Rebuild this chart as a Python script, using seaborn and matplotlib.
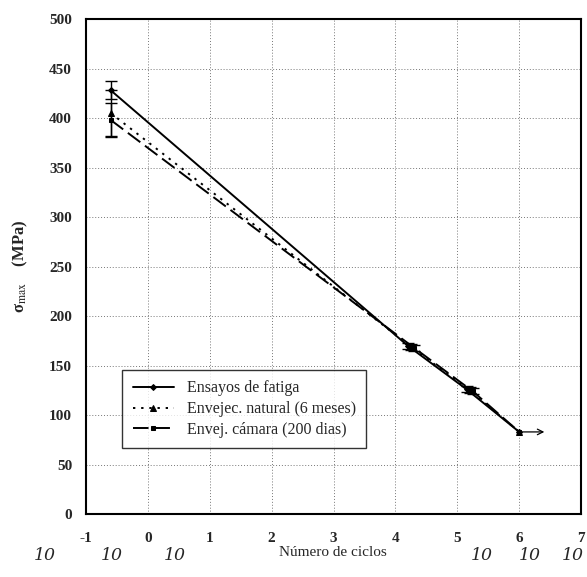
import matplotlib
matplotlib.use("Agg")
import matplotlib.pyplot as plt
import seaborn as sns
import pandas as pd
import numpy as np

# Data (log10 of number of cycles vs sigma_max in MPa)
series_names = ["Ensayos de fatiga", "Envejec. natural (6 meses)", "Envej. cámara (200 dias)"]
ens_x = [-0.6, 4.20, 5.15, 6.0]
ens_y = [428, 170, 126, 83]
ens_err = [9, 3, 3, 0]
nat_x = [-0.6, 4.25, 5.20, 6.0]
nat_y = [405, 169, 125, 83]
nat_err = [23, 3, 3, 0]
cam_x = [-0.6, 4.30, 5.25, 6.0]
cam_y = [398, 168, 124, 83]
cam_err = [17, 3, 3, 0]

x_ticks = [-1, 0, 1, 2, 3, 4, 5, 6, 7]
y_ticks = [0, 50, 100, 150, 200, 250, 300, 350, 400, 450, 500]

sns.set_style("white")
plt.rcParams['font.family'] = ['Liberation Serif', 'DejaVu Serif']
plt.rcParams['mathtext.fontset'] = 'stix'

df = pd.concat([
    pd.DataFrame({"x": ens_x, "y": ens_y, "serie": series_names[0]}),
    pd.DataFrame({"x": nat_x, "y": nat_y, "serie": series_names[1]}),
    pd.DataFrame({"x": cam_x, "y": cam_y, "serie": series_names[2]}),
])

fig = plt.figure(figsize=(5.87, 5.77), dpi=100)
ax = fig.add_axes([0.1465, 0.109, 0.8435, 0.858])

styles = {
    series_names[0]: dict(ls="-", marker="D", ms=3, lw=1.4),
    series_names[1]: dict(ls=(0, (1.2, 3)), marker="^", ms=4, lw=1.4),
    series_names[2]: dict(ls=(0, (8, 3)), marker="s", ms=3.5, lw=1.4),
}
for name, (xs, ys, es) in zip(series_names, [(ens_x, ens_y, ens_err), (nat_x, nat_y, nat_err), (cam_x, cam_y, cam_err)]):
    st = styles[name]
    sns.lineplot(data=df[df.serie == name], x="x", y="y", ax=ax, color="black",
                 linestyle=st["ls"], marker=st["marker"], markersize=st["ms"],
                 linewidth=st["lw"], label=name, markeredgecolor="black",
                 estimator=None, sort=False)
    ax.errorbar(xs[:-1], ys[:-1], yerr=es[:-1], fmt="none", ecolor="black",
                elinewidth=1.0, capsize=4, capthick=1.0)

# run-out arrow
ax.annotate("", xy=(6.45, ens_y[-1]), xytext=(6.0, ens_y[-1]),
            arrowprops=dict(arrowstyle="->", color="black", lw=0.9))

ax.set_xlim(-1, 7)
ax.set_ylim(0, 500)
ax.set_xticks(x_ticks)
ax.set_yticks(y_ticks)
ax.set_xticklabels([str(t) for t in x_ticks], fontsize=11, fontweight="bold")
ax.set_yticklabels([str(t) for t in y_ticks], fontsize=11, fontweight="bold")
ax.grid(True, color="#777777", linestyle=(0, (1, 2)), linewidth=0.7)
for s in ax.spines.values():
    s.set_color("black")
    s.set_linewidth(1.5)
ax.tick_params(axis="both", direction="out", length=6, width=1, color="black", pad=4)
ax.tick_params(axis="x", length=5, width=0.6, color="#555555", pad=8)

ax.set_xlabel("")
ax.set_ylabel("σ$_{\\mathrm{max}}$    (MPa)", fontsize=12, fontweight="bold", labelpad=14)

fig.text(333 / 587, 1 - 553 / 577, "Número de ciclos", ha="center", va="center", fontsize=11)
for px in [45, 112, 175, 482, 530, 573]:
    fig.text(px / 587, 1 - 556 / 577, "10", ha="center", va="center", fontsize=12.5,
             fontstyle="italic", family=["DejaVu Serif"], fontweight="light")

leg = ax.legend(loc="upper left", bbox_to_anchor=(0.073, 0.291), fontsize=11.5,
                frameon=True, fancybox=False, edgecolor="black", handlelength=2.6,
                borderpad=0.65, labelspacing=0.3, borderaxespad=0)
leg.get_frame().set_linewidth(1.0)

fig.savefig("out.png", dpi=100)
